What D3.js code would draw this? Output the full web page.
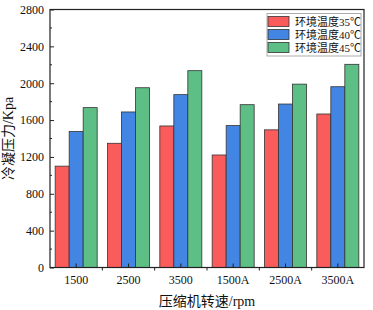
<!DOCTYPE html>
<html>
<head>
<meta charset="utf-8">
<script src="https://cdn.jsdelivr.net/npm/d3@7"></script>
<style>
  body { margin: 0; background: #fff; }
  text { font-family: "Liberation Serif", "Times New Roman", "Noto Sans CJK SC", serif; fill: #111; }
</style>
</head>
<body>
<div id="chart"></div>
<script>
const categories = ["1500", "2500", "3500", "1500A", "2500A", "3500A"];
const seriesNames = ["环境温度35℃", "环境温度40℃", "环境温度45℃"];
const temp35 = [1100, 1348, 1536, 1221, 1494, 1666];
const temp40 = [1476, 1688, 1876, 1540, 1774, 1962];
const temp45 = [1735, 1951, 2136, 1767, 1990, 2205];
const yTicks = [0, 400, 800, 1200, 1600, 2000, 2400, 2800];
const colors = ["#fa5c5c", "#4385e3", "#5dbe86"];

const series = [temp35, temp40, temp45];
const data = categories.map((c, i) => ({ cat: c, values: series.map(s => s[i]) }));

const W = 373, H = 310;
const margin = { top: 9.5, right: 9, bottom: 42.5, left: 50 };
const width = W - margin.left - margin.right;
const height = H - margin.top - margin.bottom;

const svg = d3.select("#chart").append("svg")
  .attr("width", W)
  .attr("height", H)
  .append("g")
  .attr("transform", `translate(${margin.left},${margin.top})`);

const x = d3.scaleBand().domain(categories).range([0, width]).padding(0);
const xInner = d3.scaleBand().domain(d3.range(3)).range([0, 42]);
const y = d3.scaleLinear().domain([0, 2800]).range([height, 0]);

// bars
const groups = svg.selectAll(".grp")
  .data(data)
  .enter()
  .append("g")
  .attr("class", "grp")
  .attr("transform", d => `translate(${x(d.cat) + x.bandwidth() / 2 - 21},0)`);

groups.selectAll("rect")
  .data(d => d.values)
  .enter()
  .append("rect")
  .attr("x", (d, i) => xInner(i))
  .attr("y", d => y(d))
  .attr("width", xInner.bandwidth())
  .attr("height", d => height - y(d))
  .attr("fill", (d, i) => colors[i])
  .attr("stroke", "#333")
  .attr("stroke-width", 0.8);

// frame
svg.append("rect")
  .attr("width", width)
  .attr("height", height)
  .attr("fill", "none")
  .attr("stroke", "#222")
  .attr("stroke-width", 1.2);

// y axis
const yAxis = svg.append("g")
  .call(d3.axisLeft(y).tickValues(yTicks).tickFormat(d3.format("d")).tickSize(-4).tickPadding(6));
yAxis.select(".domain").remove();
yAxis.selectAll("text").style("font-size", "12px");
yAxis.selectAll(".tick line").attr("stroke", "#222");
const yMinor = d3.range(200, 2800, 400);
svg.selectAll(".yminor")
  .data(yMinor)
  .enter()
  .append("line")
  .attr("x1", 0).attr("x2", 2)
  .attr("y1", d => y(d)).attr("y2", d => y(d))
  .attr("stroke", "#222");

// x axis
const xAxis = svg.append("g")
  .attr("transform", `translate(0,${height})`)
  .call(d3.axisBottom(x).tickSize(-4).tickPadding(8));
xAxis.select(".domain").remove();
xAxis.selectAll("text").style("font-size", "12px");
xAxis.selectAll(".tick line").attr("stroke", "#222");
svg.selectAll(".xminor")
  .data(categories.slice(1))
  .enter()
  .append("line")
  .attr("x1", d => x(d)).attr("x2", d => x(d))
  .attr("y1", height).attr("y2", height + 3)
  .attr("stroke", "#222");

// axis titles
svg.append("text")
  .attr("x", width / 2)
  .attr("y", height + 38)
  .attr("text-anchor", "middle")
  .style("font-size", "14px")
  .text("压缩机转速/rpm");

svg.append("text")
  .attr("transform", "rotate(-90)")
  .attr("x", -height / 2)
  .attr("y", -37)
  .attr("text-anchor", "middle")
  .style("font-size", "14px")
  .text("冷凝压力/Kpa");

// legend
const legend = svg.append("g")
  .attr("transform", `translate(${width - 97},4)`);
legend.append("rect")
  .attr("width", 94)
  .attr("height", 42.5)
  .attr("fill", "#fff")
  .attr("stroke", "#999")
  .attr("stroke-width", 0.8);
const items = legend.selectAll(".item")
  .data(seriesNames)
  .enter()
  .append("g")
  .attr("transform", (d, i) => `translate(1,${3 + i * 13})`);
items.append("rect")
  .attr("width", 21)
  .attr("height", 10)
  .attr("fill", (d, i) => colors[i])
  .attr("stroke", "#333")
  .attr("stroke-width", 0.8);
items.append("text")
  .attr("x", 27)
  .attr("y", 9)
  .style("font-size", "11px")
  .text(d => d);
</script>
</body>
</html>
